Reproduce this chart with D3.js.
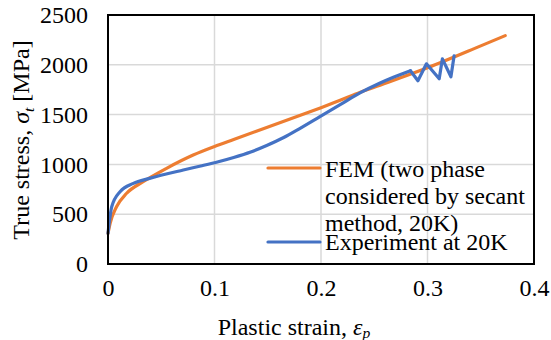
<!DOCTYPE html>
<html>
<head>
<meta charset="utf-8">
<script src="https://cdn.jsdelivr.net/npm/d3@7"></script>
<style>
  body { margin: 0; background: #fff; }
  svg text { font-family: "Liberation Serif", "Times New Roman", serif; fill: #000; }
</style>
</head>
<body>
<div id="stressChart"></div>
<script>
// data
var femStrain = [0, 0.002, 0.008, 0.0175, 0.033, 0.055, 0.08, 0.1, 0.118, 0.149, 0.18, 0.2, 0.218, 0.237, 0.25, 0.3, 0.35, 0.373];
var femStress = [308, 408, 575, 710, 826, 961, 1094, 1180, 1250, 1370, 1490, 1570, 1645, 1725, 1775, 1970, 2190, 2293];

var expStrain = [0, 0.0035, 0.0113, 0.0238, 0.039, 0.0707, 0.087, 0.1036, 0.118, 0.134, 0.149, 0.165, 0.18, 0.199, 0.218, 0.237, 0.255, 0.268, 0.284, 0.291, 0.299, 0.311, 0.314, 0.322, 0.325];
var expStress = [308, 575, 726, 810, 860, 944, 984, 1027, 1070, 1125, 1190, 1270, 1360, 1480, 1600, 1720, 1815, 1875, 1940, 1840, 2010, 1860, 2060, 1880, 2090];

var xTicks = [0, 0.1, 0.2, 0.3, 0.4];
var yTicks = [0, 500, 1000, 1500, 2000, 2500];

var seriesColors = ["#ED7D31", "#4472C4"];

var width = 551, height = 340;
var plotLeft = 108, plotRight = 534, plotTop = 15, plotBottom = 264;
var fontSize = 24;

var svg = d3.select("#stressChart")
  .append("svg")
  .attr("width", width)
  .attr("height", height);

var x = d3.scaleLinear().domain([0, 0.4]).range([plotLeft, plotRight]);
var y = d3.scaleLinear().domain([0, 2500]).range([plotBottom, plotTop]);

// gridlines
svg.append("g")
  .selectAll("line")
  .data(yTicks.slice(1, -1))
  .enter().append("line")
  .attr("x1", plotLeft).attr("x2", plotRight)
  .attr("y1", function(d){ return y(d); })
  .attr("y2", function(d){ return y(d); })
  .attr("stroke", "#d9d9d9").attr("stroke-width", 1.5);

svg.append("g")
  .selectAll("line")
  .data(xTicks.slice(1, -1))
  .enter().append("line")
  .attr("y1", plotTop).attr("y2", plotBottom)
  .attr("x1", function(d){ return x(d); })
  .attr("x2", function(d){ return x(d); })
  .attr("stroke", "#d9d9d9").attr("stroke-width", 1.5);

// series
var femData = femStrain.map(function(s, i){ return [s, femStress[i]]; });
var expData = expStrain.map(function(s, i){ return [s, expStress[i]]; });

var line = d3.line()
  .x(function(d){ return x(d[0]); })
  .y(function(d){ return y(d[1]); })
  .curve(d3.curveMonotoneX);

var lineSharp = d3.line()
  .x(function(d){ return x(d[0]); })
  .y(function(d){ return y(d[1]); })
  .curve(d3.curveLinear);

svg.append("path")
  .datum(femData)
  .attr("d", line)
  .attr("fill", "none")
  .attr("stroke", seriesColors[0])
  .attr("stroke-width", 3.2)
  .attr("stroke-linecap", "round");

// smooth up to the jagged tail, then straight segments
var tailStart = 18;
svg.append("path")
  .datum(expData.slice(0, tailStart + 1))
  .attr("d", line)
  .attr("fill", "none")
  .attr("stroke", seriesColors[1])
  .attr("stroke-width", 3.2)
  .attr("stroke-linecap", "round");
svg.append("path")
  .datum(expData.slice(tailStart))
  .attr("d", lineSharp)
  .attr("fill", "none")
  .attr("stroke", seriesColors[1])
  .attr("stroke-width", 3.2)
  .attr("stroke-linejoin", "round")
  .attr("stroke-linecap", "round");

// frame
svg.append("rect")
  .attr("x", plotLeft).attr("y", plotTop)
  .attr("width", plotRight - plotLeft).attr("height", plotBottom - plotTop)
  .attr("fill", "none")
  .attr("stroke", "#000")
  .attr("stroke-width", 2);

// axes (labels only, no tick marks)
var xAxis = svg.append("g")
  .attr("transform", "translate(0," + plotBottom + ")")
  .call(d3.axisBottom(x).tickValues(xTicks).tickSize(0).tickPadding(15)
        .tickFormat(function(d){ return d === 0 ? "0" : d3.format(".1f")(d); }));
xAxis.attr("font-family", null).attr("font-size", fontSize);
xAxis.select(".domain").remove();
xAxis.selectAll("text").attr("dy", "0.71em");

var yAxis = svg.append("g")
  .attr("transform", "translate(" + plotLeft + ",0)")
  .call(d3.axisLeft(y).tickValues(yTicks).tickSize(0).tickPadding(20)
        .tickFormat(d3.format("d")));
yAxis.attr("font-family", null).attr("font-size", fontSize);
yAxis.select(".domain").remove();

// axis titles
var xTitle = svg.append("text")
  .attr("x", 294).attr("y", 335)
  .attr("text-anchor", "middle")
  .attr("font-size", fontSize);
xTitle.append("tspan").text("Plastic strain, ");
xTitle.append("tspan").attr("font-style", "italic").text("ε");
xTitle.append("tspan").attr("font-style", "italic").attr("font-size", fontSize * 0.65)
  .attr("dy", 3).text("p");

var yTitle = svg.append("text")
  .attr("transform", "translate(29,140) rotate(-90)")
  .attr("text-anchor", "middle")
  .attr("font-size", fontSize);
yTitle.append("tspan").text("True stress, ");
yTitle.append("tspan").attr("font-style", "italic").text("σ");
yTitle.append("tspan").attr("font-style", "italic").attr("font-size", fontSize * 0.65)
  .attr("dy", 5).text("t");
yTitle.append("tspan").attr("dy", -5).text(" [MPa]");

// legend
var legendRows = [
  {color: seriesColors[0], lineY: 168, lines: ["FEM (two phase", "considered by secant", "method, 20K)"], baseY: 177},
  {color: seriesColors[1], lineY: 242, lines: ["Experiment at 20K"], baseY: 250}
];

legendRows.forEach(function(r){
  svg.append("line")
    .attr("x1", 268).attr("x2", 320)
    .attr("y1", r.lineY).attr("y2", r.lineY)
    .attr("stroke", r.color).attr("stroke-width", 3.2)
    .attr("stroke-linecap", "round");
  svg.selectAll(null)
    .data(r.lines)
    .enter().append("text")
    .attr("x", 325)
    .attr("y", function(d, i){ return r.baseY + i * 27; })
    .attr("font-size", fontSize)
    .text(function(d){ return d; });
});
</script>
</body>
</html>
